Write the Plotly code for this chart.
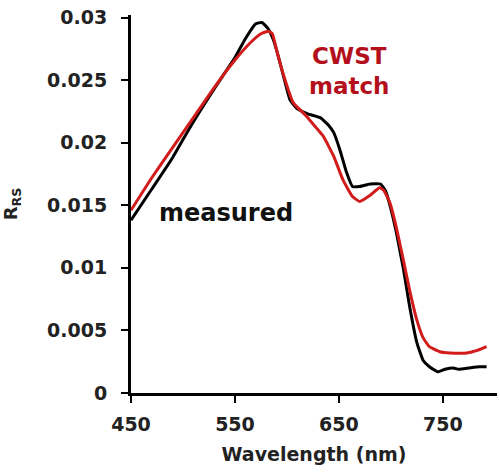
import plotly.graph_objects as go

# Measured spectrum (black)
wl_measured = [450, 470, 490, 508, 530, 550, 560, 570, 576, 582, 587, 592, 597, 603,
               610, 620, 632, 640, 645, 651, 657, 663, 670, 680, 690, 695, 700, 705,
               712, 718, 725, 731, 737, 745, 752, 760, 765, 775, 785, 792]
rrs_measured = [0.0138, 0.0163, 0.0188, 0.0214, 0.0243, 0.0268, 0.0283, 0.0295, 0.0296,
                0.0291, 0.0282, 0.0268, 0.0252, 0.0234, 0.0227, 0.0223, 0.0220, 0.0214,
                0.0208, 0.0194, 0.0177, 0.0165, 0.0165, 0.0167, 0.0167, 0.0161, 0.0147,
                0.0129, 0.0099, 0.0069, 0.0040, 0.0026, 0.0021, 0.0017, 0.0019, 0.0020,
                0.0019, 0.0020, 0.0021, 0.0021]

# CWST match spectrum (red)
wl_cwst = [450, 470, 490, 510, 530, 550, 565, 575, 582, 586, 590, 596, 606, 619, 628,
           635, 645, 654, 663, 670, 680, 689, 693, 699, 705, 712, 718, 725, 731, 737,
           747, 757, 773, 783, 792]
rrs_cwst = [0.0146, 0.0172, 0.0196, 0.0220, 0.0244, 0.0266, 0.0280, 0.0287, 0.0289,
            0.0287, 0.0274, 0.0256, 0.0232, 0.0221, 0.0212, 0.0205, 0.0189, 0.0170,
            0.0157, 0.0153, 0.0158, 0.0164, 0.0162, 0.0152, 0.0133, 0.0106, 0.0082,
            0.0058, 0.0044, 0.0037, 0.0033, 0.0032, 0.0032, 0.0034, 0.0037]

x_ticks = [450, 550, 650, 750]
y_ticks = [0, 0.005, 0.01, 0.015, 0.02, 0.025, 0.03]
y_ticktext = ["0", "0.005", "0.01", "0.015", "0.02", "0.025", "0.03"]

FONT = "DejaVu Sans"

fig = go.Figure()
fig.add_trace(go.Scatter(x=wl_measured, y=rrs_measured, mode="lines",
                         line=dict(color="#000000", width=3, shape="spline", smoothing=0.4),
                         name="measured"))
fig.add_trace(go.Scatter(x=wl_cwst, y=rrs_cwst, mode="lines",
                         line=dict(color="#d21c1c", width=3, shape="spline", smoothing=0.4),
                         name="CWST match"))

fig.add_annotation(x=541, y=0.0144, text="<b>measured</b>", showarrow=False,
                   font=dict(family=FONT, size=24, color="#111111"))
fig.add_annotation(x=660, y=0.0257, text="<b>CWST<br>match</b>", showarrow=False,
                   font=dict(family=FONT, size=23, color="#b3101c"))

axis_common = dict(showline=True, linecolor="black", linewidth=3, ticks="outside",
                   ticklen=7, tickwidth=2, tickcolor="black", showgrid=False,
                   zeroline=False, automargin=False, ticklabeloverflow="allow",
                   tickfont=dict(family=FONT, size=19, color="#222222", weight="bold"))

fig.update_xaxes(range=[450, 802], tickvals=x_ticks, ticklabelstandoff=5,
                 title=dict(text="<b>Wavelength (nm)</b>",
                            font=dict(family=FONT, size=19, color="#222222"), standoff=14),
                 **axis_common)
fig.update_yaxes(range=[0, 0.0302], tickvals=y_ticks, ticktext=y_ticktext,
                 ticklabelstandoff=10,
                 title=dict(text="<b>R<sub>RS</sub></b>",
                            font=dict(family=FONT, size=18, color="#222222"), standoff=30),
                 **axis_common)
fig.update_traces(hoverinfo="skip")
fig.update_layout(width=500, height=476, showlegend=False,
                  margin=dict(l=131, r=3, t=15, b=83),
                  plot_bgcolor="white", paper_bgcolor="white",
                  font=dict(family=FONT, color="#222222"))

# remove the browser's default body margin so the figure fills the window
fig.write_html("out.html", config={"displayModeBar": False},
               post_script="document.body.style.margin='0';")
